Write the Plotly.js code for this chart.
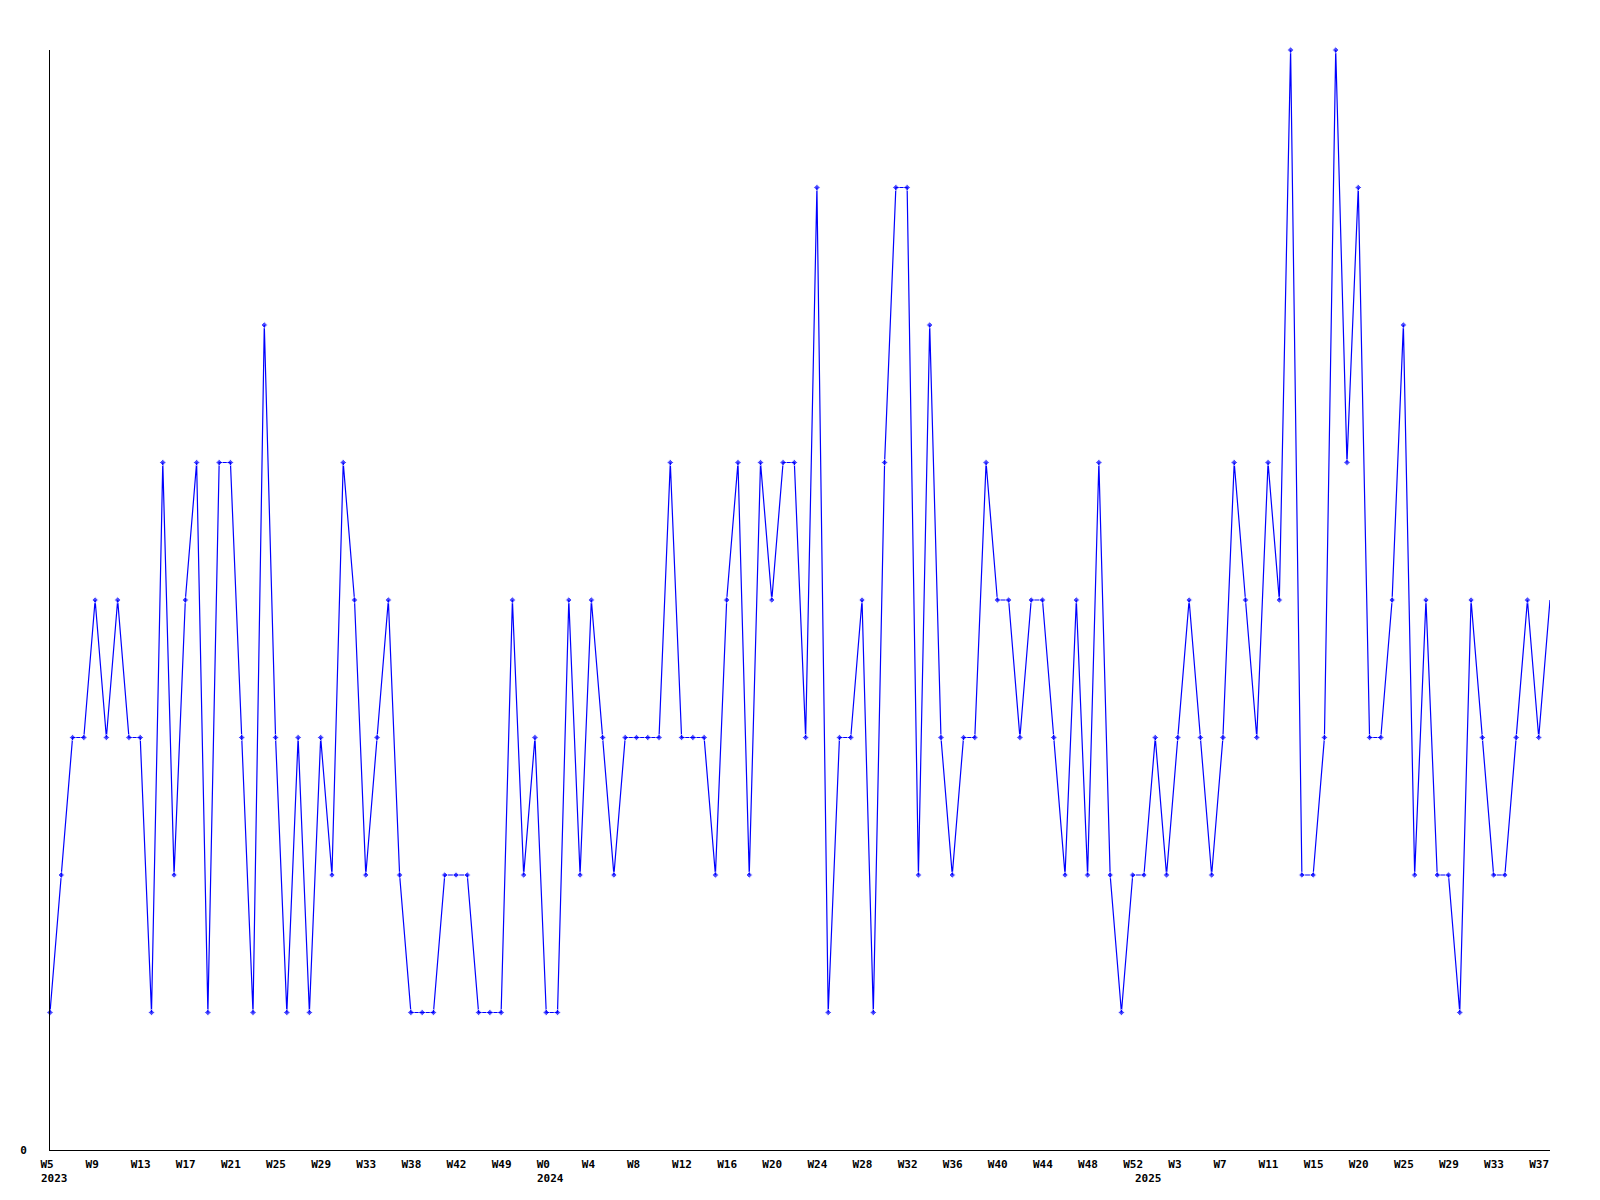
<!DOCTYPE html>
<html>
<head>
<meta charset="utf-8">
<script src="https://cdn.plot.ly/plotly-3.0.1.min.js"></script>
<style>html,body{margin:0;padding:0;background:#fff;}#chart{width:1600px;height:1200px;}</style>
</head>
<body>
<div id="chart"></div>
<script>
const years = ["2023", "2024", "2025"];
const weeks2023 = ["W5","W6","W7","W8","W9","W10","W11","W12","W13","W14","W15","W16","W17","W18","W19","W20","W21","W22","W23","W24","W25","W26","W27","W28","W29","W30","W31","W32","W33","W34","W35","W36","W38","W39","W40","W41","W42","W43","W44","W45","W49","W50","W51","W52"];
const weeks2024 = ["W0","W1","W2","W3","W4","W5","W6","W7","W8","W9","W10","W11","W12","W13","W14","W15","W16","W17","W18","W19","W20","W21","W22","W23","W24","W25","W26","W27","W28","W29","W30","W31","W32","W33","W34","W35","W36","W37","W38","W39","W40","W41","W42","W43","W44","W45","W46","W47","W48","W49","W50","W51","W52"];
const weeks2025 = ["W0","W1","W2","W3","W4","W5","W6","W7","W8","W9","W10","W11","W12","W13","W14","W15","W16","W17","W18","W20","W21","W22","W23","W25","W26","W27","W28","W29","W30","W31","W32","W33","W34","W35","W36","W37","W38"];
const values = [
  1,2,3,3,4,3,4,3,3,1,
  5,2,4,5,1,5,5,3,1,6,
  3,1,3,1,3,2,5,4,2,3,
  4,2,1,1,1,2,2,2,1,1,
  1,4,2,3,1,1,4,2,4,3,
  2,3,3,3,3,5,3,3,3,2,
  4,5,2,5,4,5,5,3,7,1,
  3,3,4,1,5,7,7,2,6,3,
  2,3,3,5,4,4,3,4,4,3,
  2,4,2,5,2,1,2,2,3,2,
  3,4,3,2,3,5,4,3,5,4,
  8,2,2,3,8,5,7,3,3,4,
  6,2,4,2,2,1,4,3,2,2,
  3,4,3,4
];

const weekSets = [weeks2023, weeks2024, weeks2025];
const keys = [], weekLabels = [], yearStarts = [];
weekSets.forEach((ws, k) => {
  yearStarts.push(years[k] + " " + ws[0]);
  ws.forEach(w => { keys.push(years[k] + " " + w); weekLabels.push(w); });
});

const tickvals = [], ticktext = [];
for (let i = 0; i < keys.length; i += 4) { tickvals.push(keys[i]); ticktext.push(weekLabels[i]); }

const markerSizes = values.map((v, i) => i === values.length - 1 ? 0 : 5);

const tickFont = {family: "DejaVu Sans Mono", size: 11, color: "#000", weight: "bold"};

const trace = {
  type: "scatter",
  mode: "lines+markers",
  x: keys,
  y: values,
  cliponaxis: false,
  line: {color: "#0000ff", width: 1.2},
  marker: {symbol: "diamond", size: markerSizes, color: "#0000ff"},
  hoverinfo: "x+y"
};

const annotations = yearStarts.map((k, j) => ({
  x: k, xref: "x", y: 0, yref: "paper",
  text: years[j], showarrow: false,
  xanchor: "left", yanchor: "top", xshift: -11, yshift: -20,
  font: tickFont
}));

const layout = {
  width: 1600, height: 1200,
  margin: {l: 50, r: 50, t: 50, b: 50},
  paper_bgcolor: "#fff", plot_bgcolor: "#fff",
  showlegend: false,
  xaxis: {
    type: "category", categoryorder: "array", categoryarray: keys,
    range: [0, keys.length - 1],
    showgrid: false, zeroline: false,
    showline: true, linecolor: "#000", linewidth: 1,
    ticks: "", tickvals: tickvals, ticktext: ticktext,
    ticklabelposition: "outside right", ticklabelshift: -10, ticklabelstandoff: 4,
    tickfont: tickFont, tickangle: 0
  },
  yaxis: {
    range: [0, 8],
    showgrid: false, zeroline: false,
    showline: true, linecolor: "#000", linewidth: 1,
    ticks: "", tickvals: [0], ticktext: ["0"],
    ticklabelstandoff: 20,
    tickfont: tickFont
  },
  annotations: annotations
};

Plotly.newPlot("chart", [trace], layout, {displayModeBar: false, staticPlot: true});
</script>
</body>
</html>
